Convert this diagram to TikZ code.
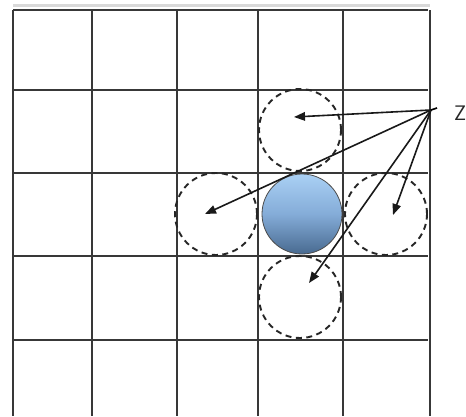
\documentclass[tikz,border=0pt]{standalone}
\usetikzlibrary{arrows.meta}
\definecolor{balltop}{RGB}{170,208,244}
\definecolor{ballmid}{RGB}{132,172,216}
\definecolor{ballbot}{RGB}{72,106,144}
\begin{document}
\begin{tikzpicture}[x=1pt,y=-1pt,
  gridline/.style={line width=2.4pt,draw=black!78},
  dashcirc/.style={circle,draw=black!85,dash pattern=on 6pt off 4.5pt,line width=1.9pt,minimum size=82pt,inner sep=0pt},
  ball/.style={circle,draw=black!70,line width=0.8pt,minimum size=80pt,inner sep=0pt,top color=balltop,bottom color=ballbot,middle color=ballmid},
  ray/.style={line width=1.6pt,draw=black!90,-{Triangle[length=11pt,width=8.5pt]}}]
\useasboundingbox (0,0) rectangle (466,416);
\fill[white] (0,0) rectangle (466,416);
% faint top shadow
\draw[line width=3pt,black!15] (13,5) -- (430,5);
% grid
\foreach \x in {13,92,177,258,343,430} \draw[gridline] (\x,10) -- (\x,416);
\foreach \y in {10,90,173,256,340} \draw[gridline] (13,\y) -- (428,\y);
% dashed circles
\node[dashcirc] (top) at (300,130) {};
\node[dashcirc] (left) at (216,214) {};
\node[dashcirc] (right) at (386,214) {};
\node[dashcirc] (bottom) at (300,297) {};
% ball
\node[ball] (ball) at (302,214) {};
% arrows
\coordinate (src) at (431,110);
\coordinate (tTop) at (294,117);
\coordinate (tLeft) at (205,214);
\coordinate (tRight) at (393,215);
\coordinate (tBottom) at (309,283);
\draw[ray] (src) -- (tTop);
\draw[ray] (src) -- (tLeft);
\draw[ray] (src) -- (tRight);
\draw[ray] (src) -- (tBottom);
\draw[line width=1.6pt] (src) -- ++(6,-2);
\node[font=\sffamily\fontsize{21}{21}\selectfont,anchor=base west,inner sep=0pt,text=black!85] (z) at (454,120) {Z};
\end{tikzpicture}
\end{document}
